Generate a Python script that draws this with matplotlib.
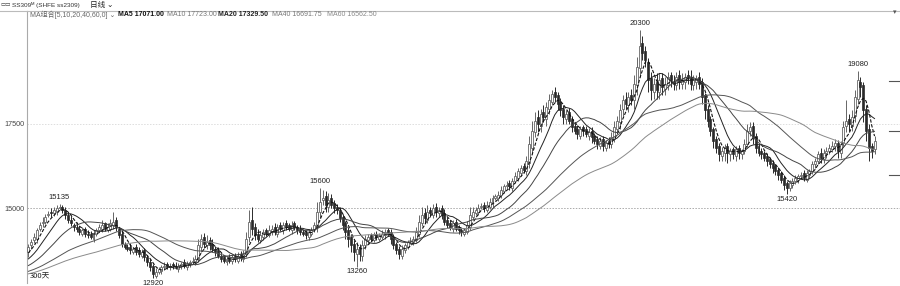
import numpy as np
import pandas as pd
import matplotlib
matplotlib.use("Agg")
import matplotlib.pyplot as plt
from matplotlib.lines import Line2D

plt.rcParams['font.family'] = ['Liberation Sans', 'DejaVu Sans', 'Noto Sans CJK SC']

# closes before the window, only used to warm up the moving averages
pre_closes = [
    12900, 12850, 12800, 12900, 13000, 12950, 12900, 12850, 12900, 12950,
    13000, 13050, 12950, 12900, 12850, 12800, 12850, 12900, 12950, 12900,
    12850, 12900, 12950, 13000, 12950, 12900, 12950, 13000, 13050, 13000,
    12950, 12900, 12850, 12900, 12950, 13000, 12950, 13000, 13050, 13100,
    13050, 13000, 13100, 13150, 13100, 13050, 13100, 13150, 13200, 13150,
    13250, 13300, 13350, 13300, 13400, 13500, 13600, 13700, 13750,
]

opens = [
    13700, 13900, 14050, 14100, 14400, 14550, 14600, 14800, 14900, 14850,
    14900, 15000, 15050, 14950, 14800, 14650, 14500, 14450, 14400, 14250,
    14400, 14250, 14250, 14100, 14250, 14350, 14400, 14550, 14350, 14400,
    14500, 14650, 14400, 14250, 13950, 13850, 13850, 13700, 13850, 13750,
    13600, 13750, 13550, 13400, 13300, 13000, 13100, 13150, 13250, 13350,
    13250, 13350, 13300, 13200, 13300, 13400, 13250, 13350, 13400, 13400,
    13500, 13850, 14150, 13900, 14050, 13950, 13800, 13750, 13600, 13550,
    13400, 13550, 13450, 13600, 13450, 13650, 13500, 13650, 14150, 14650,
    14450, 14250, 14050, 14150, 14350, 14200, 14300, 14450, 14250, 14500,
    14350, 14550, 14500, 14350, 14550, 14450, 14400, 14300, 14300, 14150,
    14250, 14400, 14450, 14900, 15250, 15350, 15050, 15300, 15150, 15050,
    14950, 14750, 14550, 14350, 14150, 13950, 13650, 13850, 13600, 13900,
    14050, 14200, 14050, 14250, 14100, 14150, 14200, 14350, 14300, 14150,
    13950, 13800, 13600, 13750, 13850, 14050, 14000, 14050, 14250, 14550,
    14850, 14650, 14950, 14800, 15050, 14850, 15000, 14850, 14650, 14550,
    14400, 14600, 14450, 14350, 14250, 14300, 14450, 14750, 14850, 14900,
    15050, 15100, 14950, 15050, 15150, 15300, 15300, 15400, 15500, 15650,
    15750, 15600, 15800, 15900, 16050, 16250, 16100, 16350, 16800, 17250,
    17700, 17450, 17850, 17650, 17950, 18150, 18450, 18350, 18150, 17950,
    17650, 17850, 17650, 17450, 17350, 17150, 17400, 17350, 17150, 17300,
    17150, 17050, 16850, 17050, 16800, 17000, 16900, 17050, 17350, 17550,
    17950, 18250, 18050, 18350, 18200, 18650, 19150, 19900, 19650, 19350,
    18850, 18450, 18750, 18450, 18850, 18550, 18650, 18950, 18750, 18650,
    18950, 18700, 18750, 18950, 18900, 18650, 18750, 18900, 18750, 18350,
    17950, 17650, 17350, 17050, 16850, 16550, 16650, 16850, 16600, 16750,
    16550, 16800, 16600, 16700, 16900, 17300, 17450, 17150, 16850, 16700,
    16650, 16550, 16450, 16350, 16250, 16150, 16050, 15900, 15750, 15600,
    15700, 15800, 15850, 15950, 16050, 15850, 16000, 16100, 16300, 16400,
    16650, 16450, 16650, 16700, 16750, 16850, 16950, 16650, 16950, 17450,
    17650, 17450, 17750, 18250, 18750, 18650, 17950, 17350, 16850, 16750,
]

closes = [
    13850, 14000, 14150, 14350, 14500, 14600, 14750, 14800, 14850, 14950,
    15000, 15050, 14950, 14800, 14650, 14550, 14450, 14400, 14300, 14350,
    14250, 14200, 14150, 14250, 14350, 14450, 14500, 14400, 14450, 14550,
    14600, 14450, 14200, 13950, 13850, 13800, 13750, 13800, 13700, 13650,
    13700, 13550, 13400, 13250, 13050, 13100, 13200, 13250, 13300, 13250,
    13300, 13300, 13250, 13300, 13350, 13300, 13350, 13400, 13450, 13500,
    13900, 14100, 13950, 14000, 13900, 13800, 13700, 13600, 13500, 13450,
    13500, 13450, 13550, 13500, 13600, 13550, 13650, 14100, 14600, 14400,
    14200, 14100, 14200, 14300, 14250, 14350, 14400, 14300, 14450, 14400,
    14500, 14450, 14400, 14500, 14450, 14350, 14300, 14250, 14200, 14300,
    14350, 14500, 14900, 15200, 15300, 15100, 15250, 15100, 15000, 14950,
    14700, 14500, 14300, 14100, 13900, 13700, 13800, 13650, 13900, 14100,
    14150, 14100, 14200, 14150, 14200, 14250, 14300, 14250, 14100, 13900,
    13750, 13650, 13800, 13900, 14000, 14050, 14100, 14300, 14600, 14800,
    14700, 14900, 14850, 15000, 14900, 14950, 14800, 14600, 14500, 14450,
    14550, 14400, 14350, 14300, 14350, 14500, 14800, 14900, 14950, 15000,
    15050, 15000, 15100, 15200, 15300, 15350, 15400, 15550, 15650, 15700,
    15650, 15800, 15950, 16100, 16200, 16150, 16400, 16900, 17300, 17600,
    17500, 17800, 17700, 18000, 18200, 18400, 18300, 18100, 17900, 17700,
    17800, 17600, 17400, 17300, 17200, 17350, 17300, 17200, 17250, 17100,
    17000, 16900, 17000, 16850, 16950, 16900, 17100, 17400, 17600, 17900,
    18200, 18100, 18300, 18200, 18700, 19200, 19800, 19600, 19400, 18800,
    18500, 18700, 18500, 18800, 18600, 18700, 18900, 18800, 18700, 18900,
    18750, 18800, 18900, 18850, 18700, 18800, 18850, 18700, 18300, 17900,
    17600, 17300, 17000, 16800, 16600, 16700, 16800, 16650, 16700, 16600,
    16750, 16650, 16700, 16900, 17300, 17400, 17100, 16800, 16650, 16600,
    16500, 16400, 16300, 16200, 16100, 16000, 15850, 15700, 15600, 15750,
    15800, 15900, 15950, 16000, 15900, 16050, 16100, 16300, 16400, 16600,
    16500, 16650, 16700, 16800, 16850, 16950, 16700, 16900, 17400, 17600,
    17500, 17700, 18300, 18800, 18600, 17900, 17300, 16800, 16700, 17000,
]

# shadow lengths above the body top / below the body bottom
upper_wick = [
    100, 80, 120, 60, 100, 150, 80, 120, 100, 80,
    90, 85, 60, 100, 80, 120, 60, 150, 80, 100,
    60, 120, 80, 100, 60, 80, 150, 50, 100, 120,
    290, 80, 60, 100, 50, 80, 120, 60, 80, 100,
    100, 80, 60, 100, 50, 120, 60, 80, 100, 60,
    80, 60, 100, 80, 60, 100, 80, 60, 100, 120,
    200, 150, 120, 200, 100, 150, 80, 100, 60, 80,
    60, 100, 80, 60, 100, 80, 120, 200, 350, 400,
    100, 150, 120, 100, 80, 150, 100, 120, 80, 100,
    80, 100, 60, 120, 80, 60, 100, 80, 60, 100,
    100, 80, 300, 400, 250, 150, 200, 120, 100, 80,
    100, 80, 60, 100, 80, 120, 200, 100, 150, 100,
    80, 60, 100, 80, 60, 100, 80, 60, 80, 100,
    60, 80, 100, 80, 60, 100, 80, 150, 200, 250,
    150, 200, 100, 120, 100, 80, 100, 120, 80, 100,
    100, 80, 60, 100, 80, 120, 250, 150, 100, 120,
    100, 80, 120, 100, 80, 60, 120, 100, 80, 100,
    80, 100, 120, 100, 80, 100, 150, 250, 300, 250,
    200, 150, 200, 150, 200, 100, 150, 100, 120, 100,
    100, 120, 80, 100, 120, 100, 80, 100, 120, 100,
    80, 100, 120, 100, 80, 100, 150, 200, 150, 200,
    150, 200, 150, 200, 250, 300, 500, 200, 150, 100,
    200, 150, 250, 200, 150, 200, 150, 100, 200, 150,
    150, 200, 100, 150, 200, 150, 100, 150, 100, 80,
    100, 80, 60, 100, 80, 120, 100, 80, 100, 60,
    100, 80, 60, 150, 200, 150, 100, 80, 60, 80,
    60, 80, 60, 80, 60, 80, 60, 80, 60, 80,
    100, 80, 60, 80, 100, 80, 60, 100, 80, 100,
    150, 100, 120, 100, 150, 100, 80, 100, 200, 600,
    150, 200, 200, 280, 150, 100, 100, 150, 100, 150,
]

lower_wick = [
    150, 100, 80, 120, 60, 100, 80, 60, 100, 80,
    100, 60, 80, 120, 100, 80, 120, 100, 80, 60,
    100, 80, 60, 100, 80, 60, 100, 80, 60, 80,
    100, 120, 80, 100, 60, 80, 100, 60, 80, 100,
    80, 100, 120, 100, 130, 80, 60, 100, 80, 60,
    80, 100, 60, 80, 100, 60, 80, 100, 60, 80,
    100, 150, 120, 100, 150, 100, 120, 80, 100, 80,
    80, 60, 100, 80, 60, 100, 80, 100, 150, 200,
    150, 100, 80, 100, 80, 60, 100, 80, 100, 80,
    100, 80, 60, 100, 80, 100, 80, 60, 100, 80,
    80, 100, 150, 200, 150, 200, 150, 100, 150, 120,
    100, 150, 200, 250, 200, 250, 390, 200, 150, 100,
    100, 80, 60, 100, 80, 60, 100, 80, 150, 120,
    100, 150, 100, 80, 60, 100, 80, 60, 100, 80,
    150, 100, 120, 100, 150, 100, 120, 100, 80, 100,
    100, 80, 100, 120, 80, 60, 100, 80, 60, 100,
    80, 100, 60, 80, 100, 60, 80, 100, 60, 80,
    100, 80, 60, 100, 80, 100, 120, 150, 200, 150,
    250, 200, 150, 200, 150, 100, 150, 200, 150, 200,
    150, 100, 150, 100, 150, 100, 150, 100, 120, 150,
    100, 150, 100, 150, 100, 120, 100, 80, 150, 200,
    200, 150, 200, 150, 250, 300, 250, 200, 200, 350,
    300, 200, 250, 200, 250, 200, 150, 200, 200, 150,
    200, 150, 200, 150, 200, 150, 200, 150, 200, 250,
    200, 150, 200, 150, 200, 150, 250, 300, 200, 150,
    150, 200, 150, 100, 80, 150, 200, 150, 100, 150,
    100, 150, 100, 150, 100, 150, 100, 150, 180, 100,
    100, 80, 100, 80, 100, 80, 100, 80, 100, 80,
    150, 100, 150, 100, 80, 150, 200, 150, 100, 200,
    200, 150, 200, 150, 300, 350, 300, 400, 200, 150,
]

ma_periods = [5, 10, 20, 40, 60]
# marked highs and lows: (day index, 'high' or 'low')
marks = [(11, 'high'), (44, 'low'), (103, 'high'), (116, 'low'),
         (216, 'high'), (268, 'low'), (293, 'high')]
y_ticks = [15000, 17500]

o = np.array(opens, float)
c = np.array(closes, float)
top = np.maximum(o, c)
bot = np.minimum(o, c)
hi = top + np.array(upper_wick)
lo = bot - np.array(lower_wick)
n = len(c)
x = np.arange(n)

fig = plt.figure(figsize=(9, 2.86), dpi=100)
ax = fig.add_axes([27 / 900, 3 / 286, 873 / 900, 272 / 286])
ax.set_xlim(-0.5, 308)
ax.set_ylim(12785, 20850)

# grid lines
ax.axhline(15000, color='#aaaaaa', lw=0.7, ls=(0, (1.5, 1.5)), zorder=0)
ax.axhline(17500, color='#dddddd', lw=0.7, ls=(0, (1.5, 1.5)), zorder=0)

# candles
up = c >= o
dn = ~up
ax.vlines(x[up], lo[up], hi[up], color='#666666', lw=0.7, zorder=2)
ax.vlines(x[dn], lo[dn], hi[dn], color='#2a2a2a', lw=0.7, zorder=2)
ax.bar(x[up], np.maximum(top[up] - bot[up], 20), bottom=bot[up], width=0.7,
       facecolor='white', edgecolor='#666666', linewidth=0.6, zorder=3)
ax.bar(x[dn], np.maximum(top[dn] - bot[dn], 20), bottom=bot[dn], width=0.7,
       facecolor='#2a2a2a', edgecolor='#2a2a2a', linewidth=0.5, zorder=3)

# moving averages
full = pd.Series(pre_closes + closes, dtype=float)
ma_styles = {
    5: dict(color='#111111', lw=0.8, ls=(0, (3, 1.5))),
    10: dict(color='#222222', lw=0.7, ls='-'),
    20: dict(color='#444444', lw=0.7, ls='-'),
    40: dict(color='#555555', lw=0.7, ls='-'),
    60: dict(color='#8a8a8a', lw=0.7, ls='-'),
}
for p in ma_periods:
    ma = full.rolling(p).mean().to_numpy()[-n:]
    ax.plot(x, ma, zorder=4, **ma_styles[p])

# extreme value labels
for i, kind in marks:
    if kind == 'high':
        ax.annotate(f"{hi[i]:.0f}", (x[i], hi[i]), xytext=(0, 2),
                    textcoords='offset points', ha='center', va='bottom',
                    fontsize=5.5, color='#222222', zorder=5)
    else:
        ax.annotate(f"{lo[i]:.0f}", (x[i], lo[i]), xytext=(0, -1),
                    textcoords='offset points', ha='center', va='top',
                    fontsize=5.5, color='#222222', zorder=5)

# axes styling
for s in ['right', 'bottom']:
    ax.spines[s].set_visible(False)
ax.spines['left'].set_color('#aaaaaa')
ax.spines['top'].set_color('#bbbbbb')
ax.spines['left'].set_linewidth(0.8)
ax.spines['top'].set_linewidth(0.8)
ax.set_xticks([])
ax.set_yticks(y_ticks)
ax.set_yticklabels([str(t) for t in y_ticks])
ax.tick_params(axis='y', length=0, pad=2, labelsize=5.2, labelcolor='#444444')

ax.text(0.5, 12850, "300天", fontsize=5.5, color='#222222', ha='left', va='bottom',
        family=['Noto Sans CJK SC', 'DejaVu Sans'], zorder=6)

# header line across the full width
fig.add_artist(Line2D([0, 27 / 900], [1 - 10.5 / 286, 1 - 10.5 / 286],
                      color='#bbbbbb', lw=0.8))
fig.text(0.5 / 900, 1 - 5 / 286, "▭▭", fontsize=4, color='#333333',
         va='center', ha='left', family=['DejaVu Sans'])
fig.text(12 / 900, 1 - 5 / 286, "SS309ᴹ (SHFE ss2309)", fontsize=4.6,
         color='#333333', va='center', ha='left',
         family=['Liberation Sans', 'DejaVu Sans'])
fig.text(90 / 900, 1 - 5 / 286, "日线 ⌄", fontsize=5.5, color='#222222',
         va='center', ha='left', family=['Noto Sans CJK SC', 'DejaVu Sans'])

legend_items = [
    (30, "MA组合[5,10,20,40,60,0] ⌄", '#666666', 'normal'),
    (118, "MA5 17071.00", '#111111', 'bold'),
    (167, "MA10 17723.00", '#777777', 'normal'),
    (218, "MA20 17329.50", '#222222', 'bold'),
    (272, "MA40 16691.75", '#777777', 'normal'),
    (327, "MA60 16562.50", '#888888', 'normal'),
]
for px, txt, col, wt in legend_items:
    fig.text(px / 900, 1 - 15 / 286, txt, fontsize=5, color=col,
             fontweight=wt, va='center', ha='left',
             family=['Liberation Sans', 'Noto Sans CJK SC', 'DejaVu Sans'])

# right-edge tick marks and marker
for py in [81, 131, 175]:
    fig.add_artist(Line2D([889 / 900, 899 / 900], [1 - py / 286, 1 - py / 286],
                          color='#555555', lw=0.8))
fig.text(895 / 900, 1 - 12 / 286, "▾", fontsize=5, color='#555555',
         ha='center', va='center', family=['DejaVu Sans'])

fig.savefig("out.png", dpi=100)
